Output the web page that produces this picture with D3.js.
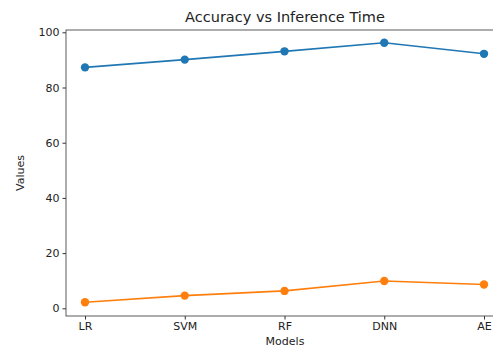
<!DOCTYPE html>
<html lang="en">
<head>
<meta charset="UTF-8">
<title>Accuracy vs Inference Time</title>
<script src="https://d3js.org/d3.v7.min.js"></script>
<style>
    body { margin: 0; background: #fff; }
    svg text { font-family: "DejaVu Sans", sans-serif; fill: #222; }
    .tick line { stroke: #333; }
    .domain { display: none; }
</style>
</head>
<body>
<svg width="493" height="347"></svg>
<script>
    const models = ["LR", "SVM", "RF", "DNN", "AE"];
    const accuracy = [87.3, 90.1, 93.1, 96.2, 92.2];
    const inferenceTime = [2.2, 4.6, 6.3, 9.9, 8.6];
    const yTicks = [0, 20, 40, 60, 80, 100];

    const svg = d3.select("svg");

    // plot area (right edge runs past the window, like the cropped reference)
    const plotLeft = 66, plotTop = 30, plotRight = 504, plotBottom = 316;

    const x = d3.scalePoint()
        .domain(models)
        .range([85, 484]);

    const y = d3.scaleLinear()
        .domain([0, 100])
        .range([308.3, 32.3]);

    svg.append("g")
        .attr("transform", `translate(0,${plotBottom})`)
        .call(d3.axisBottom(x).tickSize(3.5).tickPadding(3))
        .selectAll("text").style("font-size", "11px");

    svg.append("g")
        .attr("transform", `translate(${plotLeft},0)`)
        .call(d3.axisLeft(y).tickValues(yTicks).tickSize(3.5).tickPadding(3))
        .selectAll("text").style("font-size", "11px");

    svg.append("rect")
        .attr("x", plotLeft).attr("y", plotTop)
        .attr("width", plotRight - plotLeft).attr("height", plotBottom - plotTop)
        .attr("fill", "none").attr("stroke", "#333").attr("stroke-width", 0.8);

    const series = [
        { values: accuracy, color: "#1f77b4" },
        { values: inferenceTime, color: "#ff7f0e" }
    ];

    const line = d3.line()
        .x((d, i) => x(models[i]))
        .y(d => y(d));

    series.forEach(s => {
        svg.append("path")
            .datum(s.values)
            .attr("d", line)
            .attr("fill", "none")
            .attr("stroke", s.color)
            .attr("stroke-width", 1.6);

        svg.append("g")
            .selectAll("circle")
            .data(s.values)
            .enter()
            .append("circle")
            .attr("cx", (d, i) => x(models[i]))
            .attr("cy", d => y(d))
            .attr("r", 4.2)
            .attr("fill", s.color);
    });

    svg.append("text")
        .attr("x", 285).attr("y", 18)
        .attr("text-anchor", "middle")
        .attr("dominant-baseline", "middle")
        .style("font-size", "14.5px")
        .text("Accuracy vs Inference Time");

    svg.append("text")
        .attr("x", 285).attr("y", 342)
        .attr("text-anchor", "middle")
        .attr("dominant-baseline", "middle")
        .style("font-size", "11px")
        .text("Models");

    svg.append("text")
        .attr("transform", "translate(21,173) rotate(-90)")
        .attr("text-anchor", "middle")
        .attr("dominant-baseline", "middle")
        .style("font-size", "11px")
        .text("Values");
</script>
</body>
</html>
